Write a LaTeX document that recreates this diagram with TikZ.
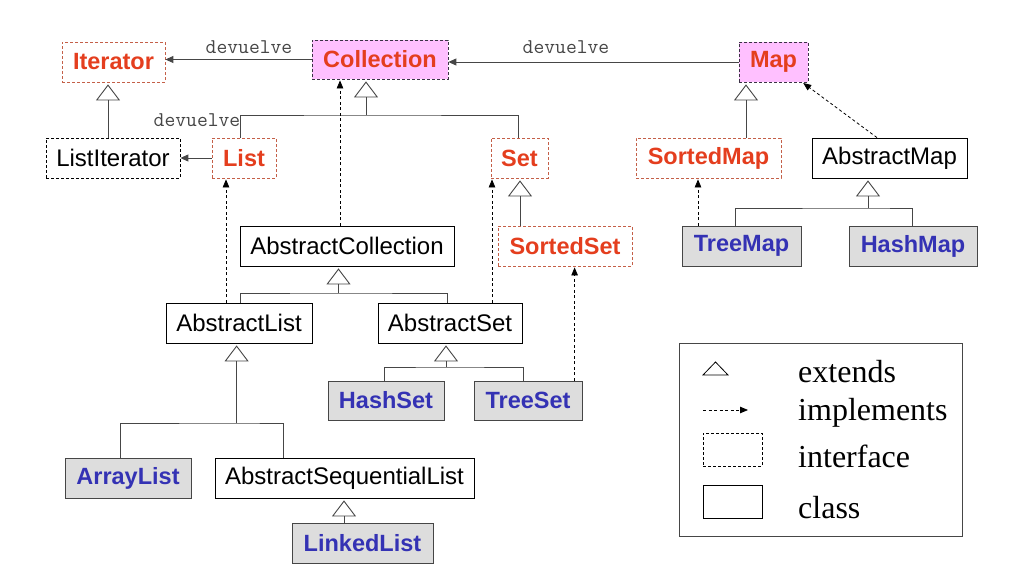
\documentclass[tikz,border=0pt]{standalone}
\usepackage{fontspec}
\setmainfont{Liberation Sans}
\newfontfamily\legfont{Liberation Serif}
\usetikzlibrary{arrows.meta}
\definecolor{ifred}{RGB}{228,62,30}
\definecolor{ifborder}{RGB}{196,96,72}
\definecolor{clblue}{RGB}{52,50,180}
\definecolor{clgray}{RGB}{221,221,221}
\definecolor{pinkfill}{RGB}{255,192,255}
\definecolor{darkborder}{RGB}{60,50,70}
\definecolor{linegray}{RGB}{70,70,70}
\tikzset{
  box/.style={rectangle, inner sep=0pt, minimum height=40pt, line width=0.8pt,
    font=\fontsize{24}{27}\selectfont},
  iface/.style={box, draw=ifborder, dash pattern=on 3pt off 2pt, text=ifred,
    font=\fontsize{23.5}{26}\selectfont\bfseries},
  topif/.style={box, draw=darkborder, dash pattern=on 3pt off 2pt, fill=pinkfill, text=ifred,
    font=\fontsize{23.5}{26}\selectfont\bfseries},
  plainif/.style={box, draw=black, dash pattern=on 3pt off 2pt},
  absclass/.style={box, draw=black},
  concrete/.style={box, draw=linegray, fill=clgray, text=clblue,
    font=\fontsize{23.5}{26}\selectfont\bfseries},
  ext/.style={draw=linegray, line width=0.9pt, shorten >=2pt,
    -{Triangle[open, width=24pt, length=16pt, line width=0.9pt, fill=white]}},
  bus/.style={draw=linegray, line width=0.9pt},
  impl/.style={draw=black, line width=0.8pt, dash pattern=on 3pt off 2.5pt, shorten >=1pt,
    -{Triangle[width=6.5pt, length=8pt]}},
  ret/.style={draw=linegray, line width=0.9pt, -{Triangle[width=7pt, length=8pt]}},
  lbl/.style={font=\ttfamily\fontsize{21}{23}\selectfont, text=linegray, inner sep=0pt},
  legtext/.style={font=\legfont\fontsize{32}{35}\selectfont, anchor=base west, inner sep=0pt},
}
\begin{document}
\begin{tikzpicture}[x=1pt, y=-1pt]
\useasboundingbox (0,0) rectangle (1028,586);
% interfaces
\node[iface, minimum width=103pt] (Iterator) at (113.5,62) {Iterator};
\node[topif, minimum width=136pt, minimum height=39pt] (Collection) at (380,59.5) {Collection};
\node[topif, minimum width=69pt] (Map) at (773.5,62) {Map};
\node[plainif, minimum width=134pt] (ListIterator) at (113,158) {ListIterator};
\node[iface, minimum width=64pt] (List) at (244,158) {List};
\node[iface, minimum width=57pt] (Set) at (519.5,158) {Set};
\node[iface, minimum width=145pt] (SortedMap) at (708.5,158) {SortedMap};
\node[iface, minimum width=134pt] (SortedSet) at (565,246) {SortedSet};
% abstract classes
\node[absclass, minimum width=155pt] (AbstractMap) at (889.5,158) {AbstractMap};
\node[absclass, minimum width=214pt] (AbstractCollection) at (347,246) {AbstractCollection};
\node[absclass, minimum width=146pt] (AbstractList) at (239,323) {AbstractList};
\node[absclass, minimum width=144pt] (AbstractSet) at (450,323) {AbstractSet};
\node[absclass, minimum width=259pt] (AbstractSequentialList) at (344.5,478) {AbstractSequentialList};
% concrete classes
\node[concrete, minimum width=119pt] (TreeMap) at (741.5,246) {TreeMap};
\node[concrete, minimum width=128pt] (HashMap) at (913,246) {HashMap};
\node[concrete, minimum width=116pt, minimum height=39pt] (HashSet) at (386,400.5) {HashSet};
\node[concrete, minimum width=108pt, minimum height=39pt] (TreeSet) at (528,400.5) {TreeSet};
\node[concrete, minimum width=126pt] (ArrayList) at (128,478) {ArrayList};
\node[concrete, minimum width=141pt] (LinkedList) at (362.5,543) {LinkedList};

% "devuelve" relations
\draw[ret] (Collection.west) -- (Collection.west -| Iterator.east);
\node[lbl] (dev1) at (249,47) {devuelve};
\draw[ret] (Map.west) -- (Map.west -| Collection.east);
\node[lbl] (dev3) at (566,47) {devuelve};
\draw[ret] (List.west) -- (ListIterator.east);
\node[lbl] (dev2) at (197,120) {devuelve};

% extends: ListIterator -> Iterator
\draw[ext] ([xshift=-5pt]ListIterator.north) -- ([xshift=-5pt]ListIterator.north |- Iterator.south);
% extends: List, Set -> Collection
\coordinate (cbus) at ([xshift=-14pt]Collection.south |- 0,115);
\draw[bus] ([xshift=-4pt]List.north) |- (cbus) -| ([xshift=-1.5pt]Set.north);
\draw[ext] (cbus) -- (cbus |- Collection.south);
% extends: SortedSet -> Set
\draw[ext] ([xshift=-45pt]SortedSet.north) -- ([xshift=-45pt]SortedSet.north |- Set.south);
% extends: SortedMap -> Map
\draw[ext] ([xshift=37.5pt]SortedMap.north) -- ([xshift=37.5pt]SortedMap.north |- Map.south);
% extends: TreeMap, HashMap -> AbstractMap
\coordinate (mbus) at ([xshift=-21.5pt]AbstractMap.south |- 0,208);
\draw[bus] ([xshift=-6.5pt]TreeMap.north) |- (mbus) -| ([xshift=-1pt]HashMap.north);
\draw[ext] (mbus) -- (mbus |- AbstractMap.south);
% extends: AbstractList, AbstractSet -> AbstractCollection
\coordinate (acbus) at ([xshift=-8.5pt]AbstractCollection.south |- 0,293);
\draw[bus] ([xshift=1.5pt]AbstractList.north) |- (acbus) -| ([xshift=-3pt]AbstractSet.north);
\draw[ext] (acbus) -- (acbus |- AbstractCollection.south);
% extends: HashSet, TreeSet -> AbstractSet
\coordinate (asbus) at ([xshift=-4pt]AbstractSet.south |- 0,367);
\draw[bus] ([xshift=-2pt]HashSet.north) |- (asbus) -| ([xshift=-5pt]TreeSet.north);
\draw[ext] (asbus) -- (asbus |- AbstractSet.south);
% extends: ArrayList, AbstractSequentialList -> AbstractList
\coordinate (albus) at ([xshift=-2.4pt]AbstractList.south |- 0,423);
\draw[bus] ([xshift=-8pt]ArrayList.north) |- (albus) -| ([xshift=-61.5pt]AbstractSequentialList.north);
\draw[ext] (albus) -- (albus |- AbstractList.south);
% extends: LinkedList -> AbstractSequentialList
\draw[ext] ([xshift=-18.5pt]LinkedList.north) -- ([xshift=-18.5pt]LinkedList.north |- AbstractSequentialList.south);

% implements
\draw[impl] ([xshift=-7pt]AbstractCollection.north) -- ([xshift=-7pt]AbstractCollection.north |- Collection.south);
\draw[impl] ([xshift=-13pt]AbstractList.north) -- ([xshift=-13pt]AbstractList.north |- List.south);
\draw[impl] ([xshift=42pt]AbstractSet.north) -- ([xshift=42pt]AbstractSet.north |- Set.south);
\draw[impl] ([xshift=46.6pt]TreeSet.north) -- ([xshift=46.6pt]TreeSet.north |- SortedSet.south);
\draw[impl] ([xshift=-43.5pt]TreeMap.north) -- ([xshift=-43.5pt]TreeMap.north |- SortedMap.south);
\draw[impl] ([xshift=-12.5pt]AbstractMap.north) -- ([xshift=-6pt]Map.south east);

% legend
\node[draw=linegray, line width=0.9pt, minimum width=283pt, minimum height=193pt, inner sep=0pt] (legend) at (820.5,439.5) {};
\coordinate (lt1) at (703,375);
\coordinate (lt2) at (728,375);
\coordinate (lt3) at (715.5,362);
\draw[draw=black, line width=0.8pt] (lt1) -- (lt2) -- (lt3) -- cycle;
\coordinate (la1) at (703,410);
\coordinate (la2) at (748,410);
\draw[impl, shorten >=0pt] (la1) -- (la2);
\node[draw=black, line width=0.8pt, dash pattern=on 3pt off 2pt, minimum width=59pt, minimum height=33pt, inner sep=0pt] (legif) at (732.5,449.5) {};
\node[draw=black, line width=0.8pt, minimum width=59pt, minimum height=33pt, inner sep=0pt] (legcl) at (732.5,501.5) {};
\node[legtext] (t1) at (798,382) {extends};
\node[legtext] (t2) at (798,420) {implements};
\node[legtext] (t3) at (798,467) {interface};
\node[legtext] (t4) at (798,518) {class};
\end{tikzpicture}
\end{document}
